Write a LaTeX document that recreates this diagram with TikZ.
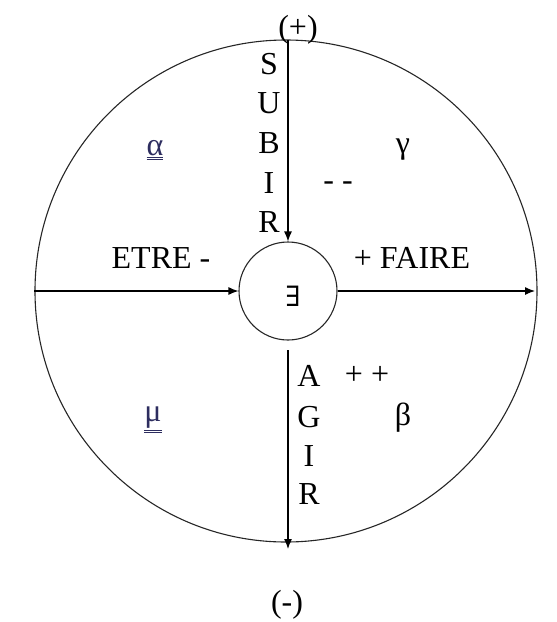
\documentclass[tikz,border=0pt]{standalone}
\usepackage{fontspec}
\setmainfont{Liberation Serif}
\newfontfamily\symfont{DejaVu Serif}
\usetikzlibrary{arrows.meta, positioning}

\definecolor{greekblue}{RGB}{45,45,95}

\begin{document}
\begin{tikzpicture}[
    x=1pt, y=-1pt,
    >={Latex[length=10pt, width=8pt]}, % Set default arrow tip style
    txt/.style={inner sep=0pt, font=\fontsize{32}{32}\selectfont}, % Style for the labels
    ring/.style={draw=black!85, line width=1.1pt, circle, inner sep=0pt} % Style for the circles
]
    \useasboundingbox (0,0) rectangle (557,622);

    % Circles
    \node[ring, minimum size=502pt] (outer) at (286,291) {};
    \node[ring, minimum size=98pt] (inner) at (288,291) {};
    \node[txt, font=\symfont\fontsize{28}{28}\selectfont] (exists) at (293,296) {∃};

    % Axes
    \coordinate (top) at (288,40);
    \coordinate (low) at (288,350);
    \coordinate (bot) at (288,549);
    \draw[->, line width=1.2pt] (outer.west) -- (inner.west);
    \draw[->, line width=1.2pt] (inner.east) -- (535,291);
    \draw[->, line width=1.2pt] (top) -- (inner.north);
    \draw[->, line width=1.2pt] (low) -- (bot);

    % Poles
    \node[txt] (plus) at (298,30) {(+)};
    \node[txt] (minus) at (287,605) {(-)};

    % SUBIR and AGIR
    \foreach \l/\y [count=\i] in {S/64,U/103,B/143,I/183,R/222}
        \node[txt] (subir\i) at (269,\y) {\l};
    \foreach \l/\y [count=\i] in {A/376,G/417,I/456,R/494}
        \node[txt] (agir\i) at (309,\y) {\l};

    % Quadrant labels
    \node[txt, text=greekblue] (alpha) at (155,150) {\underline{\underline{α}}};
    \node[txt] (gamma) at (403,150) {γ};
    \node[txt] (mm) at (338,186) {- -};
    \node[txt] (etre) at (161,258) {ETRE -};
    \node[txt] (faire) at (412,258) {+ FAIRE};
    \node[txt, text=greekblue] (mu) at (153,420) {\underline{\underline{μ}}};
    \node[txt] (pp) at (367,375) {+ +};
    \node[txt] (beta) at (403,418) {β};

\end{tikzpicture}
\end{document}
